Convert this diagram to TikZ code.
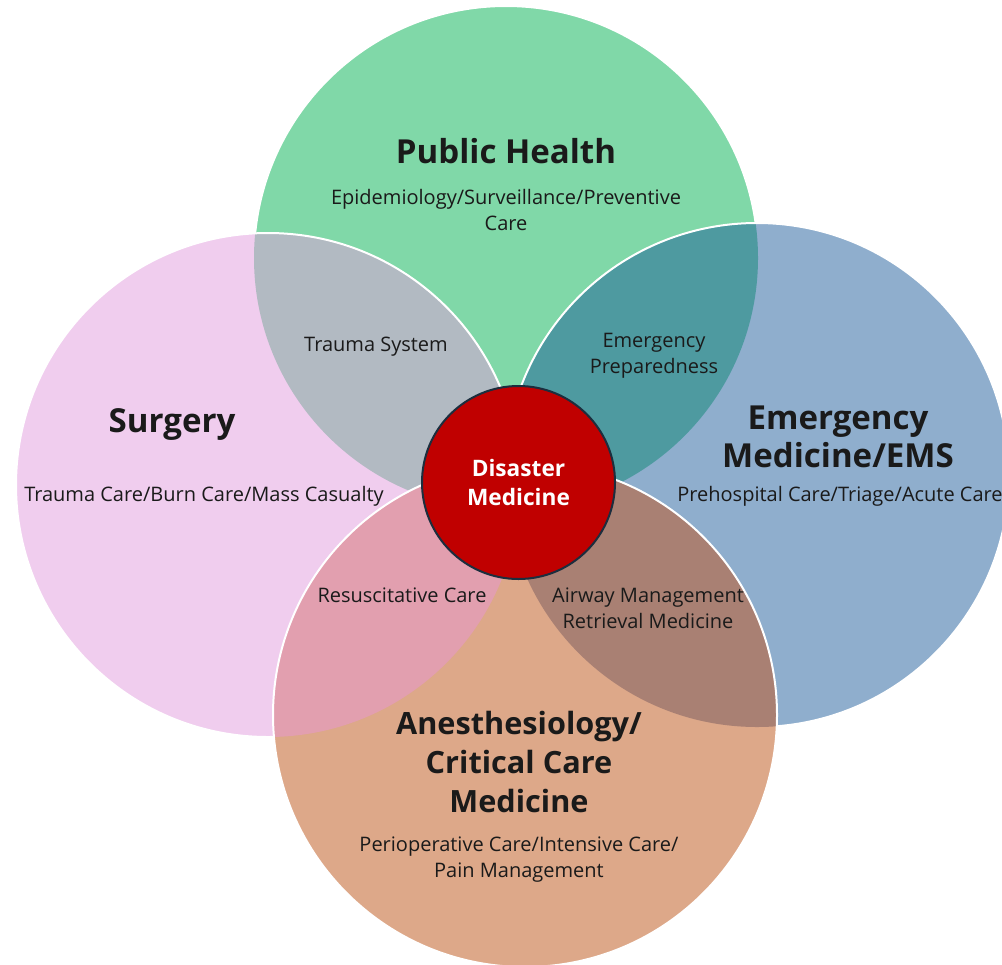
\documentclass[tikz,border=0pt]{standalone}
\usepackage{fontspec}
\setmainfont{Open Sans}

\definecolor{phgreen}{HTML}{80D8A8}
\definecolor{sgpink}{HTML}{F0CDEE}
\definecolor{emblue}{HTML}{8FAECD}
\definecolor{anorange}{HTML}{DDA889}
\definecolor{tsgray}{HTML}{B2BAC2}
\definecolor{epteal}{HTML}{4E9AA0}
\definecolor{rcrose}{HTML}{E29FAF}
\definecolor{awbrown}{HTML}{A98073}
\definecolor{dmred}{HTML}{C00000}
\definecolor{dmline}{HTML}{1C2E3E}
\definecolor{ink}{HTML}{1A1A1A}

\newcommand{\rad}{189pt}

\begin{document}
\begin{tikzpicture}[%
    x=0.75pt, y=-0.75pt,
    rim/.style={draw=white, line width=1.5pt},
    title/.style={font=\bfseries\fontsize{24.8}{29}\selectfont, align=center, text=ink},
    sub/.style={font=\fontsize{15}{19.5}\selectfont, align=center, text=ink},
    core/.style={circle, fill=dmred, draw=dmline, line width=1.5pt,
      minimum size=144.75pt, text=white, align=center,
      font=\bfseries\fontsize{17}{21.75}\selectfont}
  ]
    \useasboundingbox (0,0) rectangle (1002,964);
    \clip (0,0) rectangle (1002,964);

    % circle centres
    \coordinate (ph) at (506,258);
    \coordinate (sg) at (268,485);
    \coordinate (em) at (757,475);
    \coordinate (an) at (525,715);

    % public health
    \fill[phgreen] (ph) circle (\rad);
    \draw[rim] (ph) circle (\rad);

    % surgery
    \fill[sgpink] (sg) circle (\rad);
    \begin{scope}
      \clip (sg) circle (\rad);
      \fill[tsgray] (ph) circle (\rad);
    \end{scope}
    \draw[rim] (sg) circle (\rad);

    % emergency medicine
    \fill[emblue] (em) circle (\rad);
    \begin{scope}
      \clip (em) circle (\rad);
      \fill[epteal] (ph) circle (\rad);
    \end{scope}
    \draw[rim] (em) circle (\rad);

    % anesthesiology
    \fill[anorange] (an) circle (\rad);
    \begin{scope}
      \clip (an) circle (\rad);
      \fill[rcrose] (sg) circle (\rad);
      \fill[awbrown] (em) circle (\rad);
    \end{scope}
    \draw[rim] (an) circle (\rad);

    % labels
    \node[title] (phtitle) at (506,151) {Public Health};
    \node[sub]   (phsub)   at (506,210) {Epidemiology/Surveillance/Preventive\\Care};
    \node[title] (sgtitle) at (172,424) {Surgery};
    \node[sub]   (sgsub)   at (204,496) {Trauma Care/Burn Care/Mass Casualty};
    \node[title] (emtitle) at (838,437) {Emergency\\Medicine/EMS};
    \node[sub]   (emsub)   at (840,496) {Prehospital Care/Triage/Acute Care};
    \node[title, font=\bfseries\fontsize{23}{29}\selectfont]
                 (antitle) at (519,762) {Anesthesiology/\\Critical Care\\Medicine};
    \node[sub]   (ansub)   at (519,860) {Perioperative Care/Intensive Care/\\Pain Management};

    \node[sub] (ts) at (376,347) {Trauma System};
    \node[sub] (ep) at (654,356) {Emergency\\Preparedness};
    \node[sub] (rc) at (402,595) {Resuscitative Care};
    \node[sub] (aw) at (648,608) {Airway Management\\Retrieval Medicine};

    \node[core] (dm) at (518.5,482.5) {Disaster\\Medicine};
  \end{tikzpicture}
\end{document}
